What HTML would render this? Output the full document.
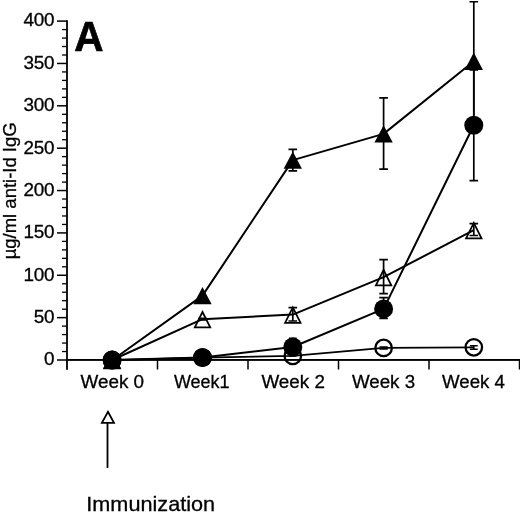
<!DOCTYPE html>
<html><head><meta charset="utf-8"><title>Figure A</title>
<style>html,body{margin:0;padding:0;background:#fff}body{width:520px;height:514px;overflow:hidden}</style></head>
<body>
<svg width="520" height="514" viewBox="0 0 520 514" style="display:block">
<rect width="520" height="514" fill="#fff"/>
<g font-family="'Liberation Sans', Arial, Helvetica, sans-serif" fill="#000" stroke="#000" stroke-width="0.3">
<text x="54.4" y="365.35" font-size="18.9" letter-spacing="-0.2" text-anchor="end">0</text>
<text x="54.4" y="322.99" font-size="18.9" letter-spacing="-0.2" text-anchor="end">50</text>
<text x="54.4" y="280.62" font-size="18.9" letter-spacing="-0.2" text-anchor="end">100</text>
<text x="54.4" y="238.26" font-size="18.9" letter-spacing="-0.2" text-anchor="end">150</text>
<text x="54.4" y="195.90" font-size="18.9" letter-spacing="-0.2" text-anchor="end">200</text>
<text x="54.4" y="153.54" font-size="18.9" letter-spacing="-0.2" text-anchor="end">250</text>
<text x="54.4" y="111.17" font-size="18.9" letter-spacing="-0.2" text-anchor="end">300</text>
<text x="54.4" y="68.81" font-size="18.9" letter-spacing="-0.2" text-anchor="end">350</text>
<text x="54.4" y="26.45" font-size="18.9" letter-spacing="-0.2" text-anchor="end">400</text>
<text transform="translate(15.6 259.35) rotate(-90)" font-size="18.6" textLength="137" lengthAdjust="spacingAndGlyphs">µg/ml anti-Id IgG</text>
<text x="74.25" y="50.55" font-size="41.7" font-weight="bold" textLength="29.25" lengthAdjust="spacingAndGlyphs" stroke-width="0.7">A</text>
<text x="80.50" y="388.2" font-size="18.3" textLength="63.60" lengthAdjust="spacingAndGlyphs">Week 0</text>
<text x="173.90" y="388.2" font-size="18.3" textLength="55.70" lengthAdjust="spacingAndGlyphs">Week1</text>
<text x="261.40" y="388.2" font-size="18.3" textLength="63.50" lengthAdjust="spacingAndGlyphs">Week 2</text>
<text x="351.90" y="388.2" font-size="18.3" textLength="63.20" lengthAdjust="spacingAndGlyphs">Week 3</text>
<text x="442.10" y="388.2" font-size="18.3" textLength="62.90" lengthAdjust="spacingAndGlyphs">Week 4</text>
<text x="86.3" y="511.2" font-size="20.6" textLength="128.8" lengthAdjust="spacingAndGlyphs">Immunization</text>
</g>
<g fill="none" stroke="#000">
<rect x="66.1" y="20.3" width="1.8" height="349.5" fill="#000" stroke="none"/>
<rect x="66.1" y="359.0" width="454" height="1.9" fill="#000" stroke="none"/>
<line x1="57" x2="67" y1="360.00" y2="360.00" stroke-width="1.5"/>
<line x1="62" x2="67" y1="351.53" y2="351.53" stroke-width="1.3"/>
<line x1="62" x2="67" y1="343.06" y2="343.06" stroke-width="1.3"/>
<line x1="62" x2="67" y1="334.58" y2="334.58" stroke-width="1.3"/>
<line x1="62" x2="67" y1="326.11" y2="326.11" stroke-width="1.3"/>
<line x1="57" x2="67" y1="317.64" y2="317.64" stroke-width="1.5"/>
<line x1="62" x2="67" y1="309.17" y2="309.17" stroke-width="1.3"/>
<line x1="62" x2="67" y1="300.69" y2="300.69" stroke-width="1.3"/>
<line x1="62" x2="67" y1="292.22" y2="292.22" stroke-width="1.3"/>
<line x1="62" x2="67" y1="283.75" y2="283.75" stroke-width="1.3"/>
<line x1="57" x2="67" y1="275.27" y2="275.27" stroke-width="1.5"/>
<line x1="62" x2="67" y1="266.80" y2="266.80" stroke-width="1.3"/>
<line x1="62" x2="67" y1="258.33" y2="258.33" stroke-width="1.3"/>
<line x1="62" x2="67" y1="249.86" y2="249.86" stroke-width="1.3"/>
<line x1="62" x2="67" y1="241.38" y2="241.38" stroke-width="1.3"/>
<line x1="57" x2="67" y1="232.91" y2="232.91" stroke-width="1.5"/>
<line x1="62" x2="67" y1="224.44" y2="224.44" stroke-width="1.3"/>
<line x1="62" x2="67" y1="215.97" y2="215.97" stroke-width="1.3"/>
<line x1="62" x2="67" y1="207.50" y2="207.50" stroke-width="1.3"/>
<line x1="62" x2="67" y1="199.02" y2="199.02" stroke-width="1.3"/>
<line x1="57" x2="67" y1="190.55" y2="190.55" stroke-width="1.5"/>
<line x1="62" x2="67" y1="182.08" y2="182.08" stroke-width="1.3"/>
<line x1="62" x2="67" y1="173.60" y2="173.60" stroke-width="1.3"/>
<line x1="62" x2="67" y1="165.13" y2="165.13" stroke-width="1.3"/>
<line x1="62" x2="67" y1="156.66" y2="156.66" stroke-width="1.3"/>
<line x1="57" x2="67" y1="148.19" y2="148.19" stroke-width="1.5"/>
<line x1="62" x2="67" y1="139.72" y2="139.72" stroke-width="1.3"/>
<line x1="62" x2="67" y1="131.24" y2="131.24" stroke-width="1.3"/>
<line x1="62" x2="67" y1="122.77" y2="122.77" stroke-width="1.3"/>
<line x1="62" x2="67" y1="114.30" y2="114.30" stroke-width="1.3"/>
<line x1="57" x2="67" y1="105.82" y2="105.82" stroke-width="1.5"/>
<line x1="62" x2="67" y1="97.35" y2="97.35" stroke-width="1.3"/>
<line x1="62" x2="67" y1="88.88" y2="88.88" stroke-width="1.3"/>
<line x1="62" x2="67" y1="80.41" y2="80.41" stroke-width="1.3"/>
<line x1="62" x2="67" y1="71.94" y2="71.94" stroke-width="1.3"/>
<line x1="57" x2="67" y1="63.46" y2="63.46" stroke-width="1.5"/>
<line x1="62" x2="67" y1="54.99" y2="54.99" stroke-width="1.3"/>
<line x1="62" x2="67" y1="46.52" y2="46.52" stroke-width="1.3"/>
<line x1="62" x2="67" y1="38.05" y2="38.05" stroke-width="1.3"/>
<line x1="62" x2="67" y1="29.57" y2="29.57" stroke-width="1.3"/>
<line x1="57" x2="67" y1="21.10" y2="21.10" stroke-width="1.5"/>
<line x1="157.50" x2="157.50" y1="360" y2="369.5" stroke-width="1.5"/>
<line x1="248.00" x2="248.00" y1="360" y2="369.5" stroke-width="1.5"/>
<line x1="338.50" x2="338.50" y1="360" y2="369.5" stroke-width="1.5"/>
<line x1="429.00" x2="429.00" y1="360" y2="369.5" stroke-width="1.5"/>
<line x1="519.50" x2="519.50" y1="360" y2="369.5" stroke-width="1.5"/>
<line x1="107.5" x2="107.5" y1="423" y2="467.9" stroke-width="1.8"/>
<path d="M107.95 411.78 L113.98 422.80 L101.92 422.80 Z" stroke-width="1.8" stroke-linejoin="miter"/>
<polyline points="112.10,360.00 202.50,357.60 292.80,355.90 383.60,347.95 473.80,347.35" stroke-width="1.75" stroke-linejoin="round"/>
<polyline points="112.10,360.00 202.50,319.20 292.80,314.55 383.60,277.20 473.80,230.10" stroke-width="2.0" stroke-linejoin="round"/>
<polyline points="112.10,360.10 202.50,357.50 292.80,347.00 383.60,308.90 473.80,125.25" stroke-width="2.0" stroke-linejoin="round"/>
<polyline points="112.10,360.20 202.50,295.60 292.80,160.10 383.60,133.90 473.80,61.25" stroke-width="2.0" stroke-linejoin="round"/>
<circle cx="112.10" cy="360.00" r="8.25" stroke-width="2.3"/>
<circle cx="202.50" cy="357.60" r="8.25" stroke-width="2.3"/>
<circle cx="292.80" cy="355.90" r="8.25" stroke-width="2.3"/>
<circle cx="383.60" cy="347.95" r="8.25" stroke-width="2.3"/>
<circle cx="473.80" cy="347.35" r="8.25" stroke-width="2.3"/>
<path d="M379.50 347.00 h8.2 M379.50 348.90 h8.2 M383.60 347.00 V348.90" stroke-width="1.7"/>
<path d="M469.90 345.80 h7.8 M469.90 349.20 h7.8 M473.80 345.80 V349.20" stroke-width="1.6"/>
<path d="M112.10 352.81 L119.83 368.27 L104.37 368.27 Z" stroke-width="1.75" stroke-linejoin="miter"/>
<path d="M202.50 312.01 L210.23 327.47 L194.77 327.47 Z" stroke-width="1.75" stroke-linejoin="miter"/>
<path d="M292.80 307.36 L300.53 322.82 L285.07 322.82 Z" stroke-width="1.75" stroke-linejoin="miter"/>
<path d="M383.60 270.01 L391.33 285.47 L375.87 285.47 Z" stroke-width="1.75" stroke-linejoin="miter"/>
<path d="M473.80 222.91 L481.53 238.38 L466.07 238.38 Z" stroke-width="1.75" stroke-linejoin="miter"/>
<path d="M198.50 318.30 h8.0 M198.50 320.00 h8.0 M202.50 318.30 V320.00" stroke-width="1.6"/>
<path d="M288.50 307.60 h8.6 M288.50 321.00 h8.6 M292.80 307.60 V321.00" stroke-width="1.7"/>
<path d="M379.30 259.60 h8.6 M379.30 293.70 h8.6 M383.60 259.60 V293.70" stroke-width="1.7"/>
<path d="M469.50 223.70 h8.6 M469.50 235.50 h8.6 M473.80 223.70 V235.50" stroke-width="1.7"/>
<path d="M289.00 338.40 h7.6 M289.00 355.80 h7.6 M292.80 338.40 V355.80" stroke-width="1.7"/>
<path d="M379.30 297.70 h8.6 M379.30 318.50 h8.6 M383.60 297.70 V318.50" stroke-width="1.7"/>
<path d="M469.50 70.00 h8.6 M469.50 180.60 h8.6 M473.80 70.00 V180.60" stroke-width="1.7"/>
<circle cx="112.10" cy="360.10" r="9.50" fill="#000" stroke="none"/>
<circle cx="202.50" cy="357.50" r="9.50" fill="#000" stroke="none"/>
<circle cx="292.80" cy="347.00" r="9.50" fill="#000" stroke="none"/>
<circle cx="383.60" cy="308.90" r="9.50" fill="#000" stroke="none"/>
<circle cx="473.80" cy="125.25" r="9.50" fill="#000" stroke="none"/>
<path d="M288.50 149.30 h8.6 M288.50 170.90 h8.6 M292.80 149.30 V170.90" stroke-width="1.7"/>
<path d="M379.30 97.90 h8.6 M379.30 169.10 h8.6 M383.60 97.90 V169.10" stroke-width="1.7"/>
<path d="M469.50 1.75 h8.6 M469.50 120.00 h8.6 M473.80 1.75 V120.00" stroke-width="1.7"/>
<path d="M112.10 351.55 L121.25 368.85 L102.95 368.85 Z" fill="#000" stroke="none"/>
<path d="M202.50 286.95 L211.65 304.25 L193.35 304.25 Z" fill="#000" stroke="none"/>
<path d="M292.80 151.45 L301.95 168.75 L283.65 168.75 Z" fill="#000" stroke="none"/>
<path d="M383.60 125.25 L392.75 142.55 L374.45 142.55 Z" fill="#000" stroke="none"/>
<path d="M473.80 52.60 L482.95 69.90 L464.65 69.90 Z" fill="#000" stroke="none"/>
</g></svg>
</body></html>
